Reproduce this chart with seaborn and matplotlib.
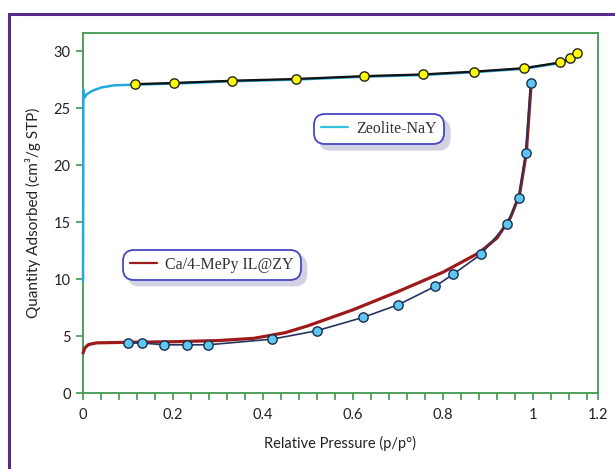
import numpy as np
import pandas as pd
import matplotlib
matplotlib.use('Agg')
import matplotlib.pyplot as plt
from matplotlib.ticker import MultipleLocator, FixedLocator
from matplotlib.patches import Rectangle
from matplotlib.lines import Line2D
import seaborn as sns

# Zeolite-NaY: Messpunkte (gelb) und Isothermenlinie (cyan)
nay_x = [0.116, 0.203, 0.332, 0.473, 0.624, 0.755, 0.870, 0.980, 1.060, 1.082, 1.097]
nay_y = [27.1, 27.2, 27.4, 27.55, 27.8, 27.95, 28.2, 28.5, 29.0, 29.35, 29.8]
nay_curve_x = [0.0, 0.0008, 0.003, 0.008, 0.02, 0.04, 0.07, 0.116, 0.203, 0.332, 0.473,
               0.624, 0.755, 0.870, 0.980, 1.060, 1.082, 1.097]
nay_curve_y = [9.8, 26.6, 25.9, 26.2, 26.5, 26.8, 27.0, 27.05, 27.15, 27.35, 27.5,
               27.75, 27.9, 28.15, 28.45, 28.95, 29.3, 29.75]

# Ca/4-MePy IL@ZY: Messpunkte (hellblau) und Linie (dunkelrot)
ca_x = [0.099, 0.132, 0.181, 0.230, 0.278, 0.421, 0.519, 0.622, 0.701, 0.783,
        0.822, 0.884, 0.942, 0.968, 0.984, 0.995]
ca_y = [4.43, 4.38, 4.23, 4.23, 4.23, 4.73, 5.46, 6.63, 7.75, 9.37,
        10.40, 12.16, 14.80, 17.07, 21.06, 27.2]
ca_curve_x = [0.0, 0.004, 0.012, 0.03, 0.1, 0.2, 0.3, 0.38, 0.45, 0.5, 0.6, 0.7,
              0.8, 0.88, 0.92, 0.95, 0.97, 0.985, 0.995]
ca_curve_y = [3.5, 3.95, 4.25, 4.4, 4.45, 4.5, 4.6, 4.8, 5.3, 5.9, 7.3, 8.9,
              10.6, 12.3, 13.6, 15.4, 17.4, 21.0, 26.6]

x_ticks = [0, 0.2, 0.4, 0.6, 0.8, 1.0]
x_labels = ['0', '0.2', '0.4', '0.6', '0.8', '1', '1.2']
y_ticks = [0, 5, 10, 15, 20, 25, 30]

sns.set_style('white')
plt.rcParams['font.family'] = ['Lato', 'DejaVu Sans']

fig = plt.figure(figsize=(6.15, 4.69), dpi=100)
ax = fig.add_axes([0.135, 0.162, 0.837, 0.768])

green = '#3f9a4f'
xmax = 1.144

# Linien
sns.lineplot(x=nay_curve_x, y=nay_curve_y, ax=ax, color='#22aadd', lw=1.8, sort=False,
             estimator=None, zorder=3, clip_on=False)
sns.lineplot(x=nay_x, y=nay_y, ax=ax, color='#111111', lw=1.6, sort=False, estimator=None, zorder=3)
sns.lineplot(x=ca_curve_x, y=ca_curve_y, ax=ax, color='#9e1a1a', lw=2.3, sort=False,
             estimator=None, zorder=3, clip_on=False)
sns.lineplot(x=ca_x, y=ca_y, ax=ax, color='#26355f', lw=1.2, sort=False, estimator=None, zorder=3)

# Punkte
sns.scatterplot(x=nay_x, y=nay_y, ax=ax, color='#ffff00', edgecolor='#222222',
                linewidth=1.0, s=45, zorder=5)
sns.scatterplot(x=ca_x, y=ca_y, ax=ax, color='#5cc8f2', edgecolor='#1d2c4c',
                linewidth=1.0, s=45, zorder=5)

ax.set_xlim(0, xmax)
ax.set_ylim(0, 31.6)
ax.xaxis.set_major_locator(FixedLocator(x_ticks + [xmax]))
ax.set_xticklabels(x_labels)
ax.xaxis.set_minor_locator(MultipleLocator(0.04))
ax.set_yticks(y_ticks)

for s in ax.spines.values():
    s.set_color(green)
    s.set_linewidth(1.3)

ax.tick_params(axis='x', which='both', direction='out', length=5, width=1.2,
               color=green, bottom=True, labelsize=10.5, labelcolor='#222222', pad=6)
ax.tick_params(axis='y', which='major', direction='out', length=5, width=1.2,
               color=green, left=True, labelsize=10.5, labelcolor='#222222', pad=4)

ax.set_xlabel('Relative Pressure (p/p°)', fontsize=10.5, color='#222222', labelpad=10)
ax.set_ylabel('Quantity Adsorbed (cm³/g STP)', fontsize=11, color='#222222', labelpad=9)

# Legenden als abgerundete Kästen mit Schatten
def box_legend(handle, label, pos):
    leg = ax.legend(handles=[handle], labels=[label], loc='center', bbox_to_anchor=pos,
                    frameon=True, fancybox=True, framealpha=1,
                    shadow={'ox': 4, 'oy': -4, 'color': '#d2d2e2', 'alpha': 1},
                    edgecolor='#4646c4', handlelength=1.7, handletextpad=0.5,
                    borderpad=0.45, borderaxespad=0,
                    prop={'family': 'Liberation Serif', 'size': 11.5})
    leg.get_frame().set_linewidth(1.3)
    leg.get_frame().set_boxstyle('round', pad=0, rounding_size=0.7)
    leg.set_zorder(6)
    for t in leg.get_texts():
        t.set_color('#333333')
    return leg

leg1 = box_legend(Line2D([], [], color='#33c4dc', lw=1.6), 'Zeolite-NaY', (0.575, 0.733))
ax.add_artist(leg1)
box_legend(Line2D([], [], color='#9e1a1a', lw=1.6), 'Ca/4-MePy IL@ZY', (0.250, 0.356))

# äußerer Rahmen (lila)
fig.patches.append(Rectangle((9 / 615, -0.5), 2, 1.5 - 14 / 469, transform=fig.transFigure,
                             fill=False, edgecolor='#5a2a88', lw=2.2))

plt.savefig('out.png', dpi=100)
